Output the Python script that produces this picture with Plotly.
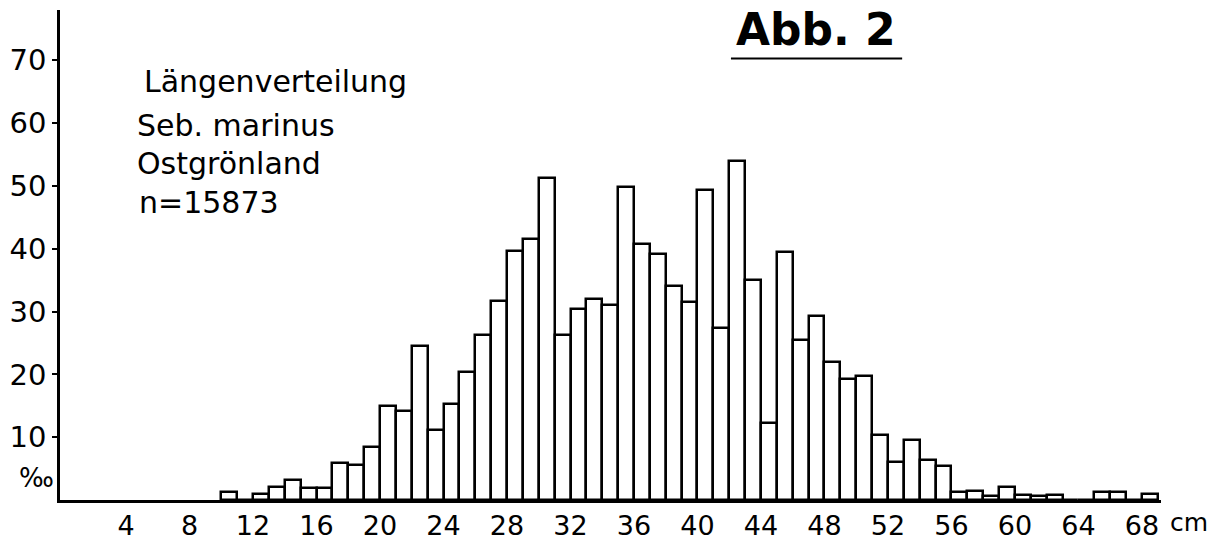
import plotly.graph_objects as go

# Length classes (cm) and their share of the catch (per mille)
lengths = [10, 11, 12, 13, 14, 15, 16, 17, 18, 19,
           20, 21, 22, 23, 24, 25, 26, 27, 28, 29,
           30, 31, 32, 33, 34, 35, 36, 37, 38, 39,
           40, 41, 42, 43, 44, 45, 46, 47, 48, 49,
           50, 51, 52, 53, 54, 55, 56, 57, 58, 59,
           60, 61, 62, 63, 64, 65, 66, 67, 68]
permille = [1.2, 0.0, 0.9, 2.0, 3.2, 1.9, 1.9, 5.9, 5.6, 8.5,
            15.0, 14.2, 24.5, 11.2, 15.3, 20.4, 26.3, 31.6, 39.6, 41.5,
            51.2, 26.3, 30.4, 32.0, 31.0, 49.8, 40.8, 39.2, 34.1, 31.5,
            49.3, 27.4, 54.0, 35.0, 12.3, 39.5, 25.5, 29.3, 21.9, 19.2,
            19.7, 10.3, 6.1, 9.6, 6.4, 5.4, 1.3, 1.4, 0.7, 2.0,
            0.8, 0.7, 0.8, 0.0, 0.0, 1.3, 1.3, 0.0, 1.0]

x_ticks = [4, 8, 12, 16, 20, 24, 28, 32, 36, 40, 44, 48, 52, 56, 60, 64, 68]
y_ticks = [10, 20, 30, 40, 50, 60, 70]

legend_lines = ["Längenverteilung", "Seb. marinus", "Ostgrönland", "n=15873"]

FONT = "DejaVu Sans"

fig = go.Figure()
fig.add_trace(go.Bar(
    x=lengths,
    y=permille,
    width=1,
    offset=0,
    marker=dict(color="white", line=dict(color="black", width=2.5)),
    showlegend=False,
    hoverinfo="x+y",
))

fig.update_layout(
    width=1217,
    height=551,
    margin=dict(l=55, r=56, t=10, b=44),
    paper_bgcolor="white",
    plot_bgcolor="white",
    font=dict(family=FONT, color="black", size=28),
    bargap=0,
    xaxis=dict(
        range=[-0.16, 69.2],
        showgrid=False,
        zeroline=False,
        showline=True,
        linecolor="black",
        linewidth=2.5,
        ticks="",
        tickmode="array",
        tickvals=x_ticks,
        ticktext=[str(v) for v in x_ticks],
        tickfont=dict(family=FONT, size=27),
    ),
    yaxis=dict(
        range=[0, 78],
        showgrid=False,
        zeroline=False,
        showline=True,
        linecolor="black",
        linewidth=2.5,
        ticks="outside",
        ticklen=5,
        tickwidth=2,
        tickcolor="black",
        tickmode="array",
        tickvals=y_ticks,
        ticktext=[str(v) for v in y_ticks],
        tickfont=dict(family=FONT, size=29),
    ),
)

# Caption block in the upper left
caption_pos = [(5.0, 66.6), (4.55, 59.6), (4.55, 53.5), (4.7, 47.4)]
for text, (cx, cy) in zip(legend_lines, caption_pos):
    fig.add_annotation(
        x=cx, y=cy, xref="x", yref="y",
        text=text, showarrow=False,
        xanchor="left", yanchor="middle",
        font=dict(family=FONT, size=30),
    )

# Figure number with underline
fig.add_annotation(
    x=0.687, y=0.96, xref="paper", yref="paper",
    text="Abb. 2", showarrow=False,
    xanchor="center", yanchor="middle",
    font=dict(family=FONT, size=44, weight="bold"),
)
fig.add_shape(
    type="line", xref="paper", yref="paper",
    x0=0.6094, x1=0.7649, y0=0.9008, y1=0.9008,
    line=dict(color="black", width=2),
)

# Unit labels
fig.add_annotation(
    x=-0.004, y=0.045, xref="paper", yref="paper",
    text="‰", showarrow=False,
    xanchor="right", yanchor="middle",
    font=dict(family=FONT, size=26),
)
fig.add_annotation(
    x=1.006, y=-0.046, xref="paper", yref="paper",
    text="cm", showarrow=False,
    xanchor="left", yanchor="middle",
    font=dict(family=FONT, size=25),
)

fig.write_html("out.html")
